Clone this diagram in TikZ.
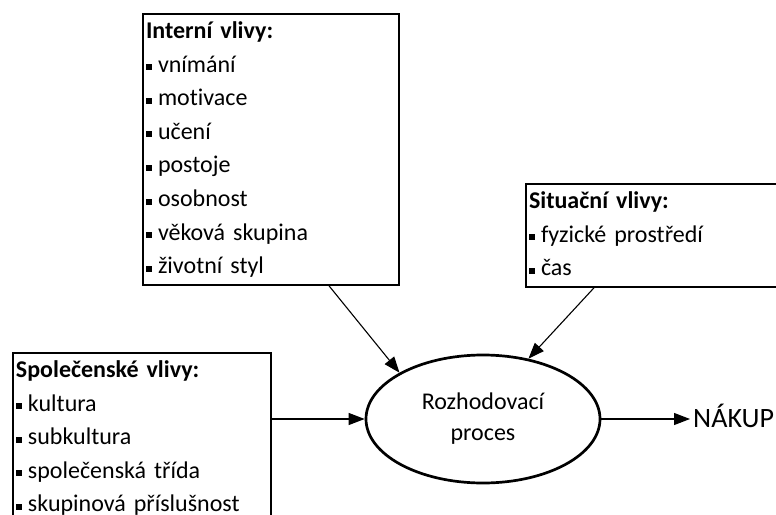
\documentclass[tikz,border=0pt]{standalone}
\usepackage{fontspec}
\setmainfont{Carlito}[Ligatures=NoCommon]
\usetikzlibrary{arrows.meta,shapes.geometric}
\newcommand{\pHead}[1]{\strut\textbf{#1}}
\newcommand{\pItem}[1]{\strut\rule[2pt]{6pt}{6pt}\hspace{6pt}#1}

\begin{document}
\begin{tikzpicture}[x=1pt,y=-1pt,
  factorbox/.style={draw, line width=2pt, anchor=north west, align=left, inner xsep=3pt, inner ysep=1pt, font=\fontsize{24}{33.6}\selectfont},
  flow/.style={line width=1.1pt, -{Triangle[length=16pt,width=12pt]}}]
\useasboundingbox (0,0) rectangle (776,514);
\node[factorbox, text width=250pt] (interni) at (142,13) {\pHead{Interní vlivy:}\\ \pItem{vnímání}\\ \pItem{motivace}\\ \pItem{učení}\\ \pItem{postoje}\\ \pItem{osobnost}\\ \pItem{věková skupina}\\ \pItem{životní styl}};
\node[factorbox, text width=254pt] (situacni) at (525,183) {\pHead{Situační vlivy:}\\ \pItem{fyzické prostředí}\\ \pItem{čas}};
\node[factorbox, text width=252pt] (spolecenske) at (12,352) {\pHead{Společenské vlivy:}\\ \pItem{kultura}\\ \pItem{subkultura}\\ \pItem{společenská třída}\\ \pItem{skupinová příslušnost}};
\node[draw, ellipse, line width=2.7pt, minimum width=234pt, minimum height=128pt, inner sep=0pt, align=center, font=\fontsize{24}{31}\selectfont] (proces) at (483,419) {Rozhodovací\\proces};
\node[anchor=base west, inner xsep=3pt, inner ysep=0pt, font=\fontsize{28}{32}\selectfont] (nakup) at (690,427) {NÁKUP};
\draw[flow] ([xshift=187pt]interni.south west) -- (proces.151);
\draw[flow] ([xshift=69pt]situacni.south west) -- (proces.53);
\draw[flow] (proces.west -| spolecenske.east) -- (proces.west);
\draw[flow] (proces.east) -- (proces.east -| nakup.west);
\end{tikzpicture}
\end{document}
